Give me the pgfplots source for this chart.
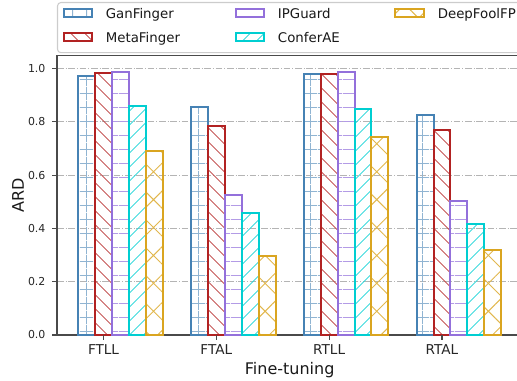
\documentclass[border=0pt]{standalone}
\usepackage{fontspec}
\setmainfont{DejaVu Sans}
\usepackage{pgfplots}
\pgfplotsset{compat=1.18}
\usetikzlibrary{patterns.meta}

\definecolor{cGan}{HTML}{4682B4}
\definecolor{cMeta}{HTML}{B22222}
\definecolor{cIP}{HTML}{9370DB}
\definecolor{cConf}{HTML}{00CED1}
\definecolor{cDeep}{HTML}{DAA520}
\definecolor{spine}{HTML}{4A4A4A}
\definecolor{gridc}{HTML}{B4B4B4}

% hatch patterns of the five methods
\tikzset{
  hGan/.style={pattern={Hatch[angle=0,distance=10.5pt,line width=0.7pt,xshift=2.8pt,yshift=6pt]},pattern color=cGan!60},
  hMeta/.style={pattern={Lines[angle=-45,distance=7.4pt,line width=0.7pt]},pattern color=cMeta!85},
  hIP/.style={pattern={Lines[angle=0,distance=10.5pt,line width=0.7pt,yshift=6pt]},pattern color=cIP!70},
  hConf/.style={pattern={Lines[angle=45,distance=7.4pt,line width=0.7pt]},pattern color=cConf!85},
  hDeep/.style={pattern={Hatch[angle=45,distance=14.8pt,line width=0.7pt]},pattern color=cDeep!80},
}
\pgfplotsset{
  patch legend/.style={legend image code/.code={%
    \draw[##1,rounded corners=0pt] (0pt,-0.5pt) rectangle (21.5pt,5.7pt);}},
}

\begin{document}
\begin{tikzpicture}
% the page: the plot area is cut on the right, as is the legend box
\useasboundingbox (-42.75pt,-34.5pt) rectangle (345pt,251.25pt);
\begin{axis}[
  overlay,
  at={(0pt,0pt)}, anchor=south west,
  scale only axis,
  width=349pt, height=209.8pt,
  xmin=-0.4125, xmax=3.7125,
  ymin=0, ymax=1.05,
  clip=false,
  axis lines*=left,
  bar width=0.15,
  xtick={0,1,2,3},
  xticklabels={FTLL,FTAL,RTLL,RTAL},
  ytick={0,0.2,0.4,0.6,0.8,1.0},
  /pgf/number format/assume math mode=true,
  yticklabel style={/pgf/number format/fixed,/pgf/number format/fixed zerofill,/pgf/number format/precision=1},
  tick align=outside, major tick length=3.5pt,
  every tick/.style={draw=spine,solid,line width=0.9pt},
  axis line style={draw=spine,line width=1.1pt},
  ymajorgrids,
  major grid style={draw=gridc,line width=0.8pt,dash pattern=on 5.1pt off 1.3pt on 0.8pt off 1.3pt},
  x tick label style={font=\fontsize{10.2}{12}\selectfont,text=black!85,inner sep=0pt,anchor=base,yshift=-10.8pt},
  y tick label style={font=\fontsize{8.2}{10}\selectfont,text=black!85,inner sep=0pt,anchor=east,xshift=-5pt},
  xlabel={Fine-tuning},
  ylabel={ARD},
  xlabel style={at={(axis description cs:0.5,-0.142)},anchor=base,font=\fontsize{12}{14}\selectfont,text=black!90},
  ylabel style={at={(axis description cs:-0.0838,0.5)},anchor=center,font=\fontsize{12}{14}\selectfont,text=black!90},
  legend columns=3,
  legend cell align=left,
  legend style={
    at={(axis description cs:0,1.1904)}, anchor=north west,
    draw=black!20, line width=0.8pt, rounded corners=2.5pt, fill=white,
    font=\fontsize{10}{12}\selectfont, text=black!90,
    inner xsep=3.75pt, inner ysep=4pt,
    row sep=5.95pt, column sep=0pt,
    nodes={inner sep=0pt,text height=7.25pt,text depth=3.5pt},
    /tikz/every odd column/.append style={column sep=9.5pt},
    /tikz/every even column/.append style={column sep=41pt},
  },
]
% bars, one series per method
\addplot[forget plot,ybar,bar width=0.15,bar shift=-0.15,draw=cGan,line width=1.5pt,hGan]
  coordinates {(0,0.972) (1,0.857) (2,0.978) (3,0.825)};
\addplot[forget plot,ybar,bar width=0.15,bar shift=0,draw=cMeta,line width=1.5pt,hMeta]
  coordinates {(0,0.982) (1,0.785) (2,0.978) (3,0.771)};
\addplot[forget plot,ybar,bar width=0.15,bar shift=0.15,draw=cIP,line width=1.5pt,hIP]
  coordinates {(0,0.988) (1,0.527) (2,0.988) (3,0.502)};
\addplot[forget plot,ybar,bar width=0.15,bar shift=0.3,draw=cConf,line width=1.5pt,hConf]
  coordinates {(0,0.858) (1,0.457) (2,0.849) (3,0.415)};
\addplot[forget plot,ybar,bar width=0.15,bar shift=0.45,draw=cDeep,line width=1.5pt,hDeep]
  coordinates {(0,0.692) (1,0.295) (2,0.743) (3,0.320)};

% top frame line of the plot area
\draw[spine,line width=1.1pt] (rel axis cs:0,1) -- (rel axis cs:1,1);
% outward tick marks on the bottom and left frame lines
\pgfplotsinvokeforeach{0,1,2,3}{
  \draw[spine,line width=0.9pt] (axis cs:#1,0) -- ++(0pt,-3.5pt);
}
\pgfplotsinvokeforeach{0,0.2,0.4,0.6,0.8,1.0}{
  \draw[spine,line width=0.9pt] (axis cs:-0.4125,#1) -- ++(-3.5pt,0pt);
}

% legend, filled row by row
\addlegendimage{patch legend,draw=cGan,line width=1.5pt,hGan}
\addlegendentry{GanFinger}
\addlegendimage{patch legend,draw=cIP,line width=1.5pt,hIP}
\addlegendentry{IPGuard}
\addlegendimage{patch legend,draw=cDeep,line width=1.5pt,hDeep}
\addlegendentry{DeepFoolFP}
\addlegendimage{patch legend,draw=cMeta,line width=1.5pt,hMeta}
\addlegendentry{MetaFinger}
\addlegendimage{patch legend,draw=cConf,line width=1.5pt,hConf}
\addlegendentry{ConferAE}
\end{axis}
\end{tikzpicture}
\end{document}
